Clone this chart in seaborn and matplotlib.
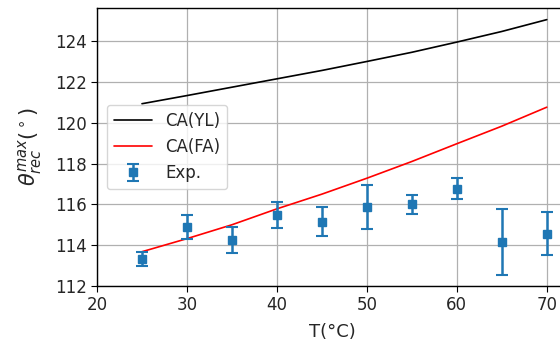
import numpy as np
import pandas as pd
import seaborn as sns
import matplotlib
matplotlib.use("Agg")
import matplotlib.pyplot as plt

# model curves
temp_model = [25, 30, 35, 40, 45, 50, 55, 60, 65, 70]
theta_yl = [120.93, 121.33, 121.74, 122.15, 122.56, 123.0, 123.45, 123.95, 124.47, 125.05]
theta_fa = [113.68, 114.32, 115.0, 115.78, 116.5, 117.28, 118.1, 118.97, 119.83, 120.76]

# experiment
temp_exp = [25, 30, 35, 40, 45, 50, 55, 60, 65, 70]
theta_exp = [113.31, 114.88, 114.24, 115.48, 115.15, 115.86, 116.0, 116.77, 114.16, 114.56]
theta_err = [0.35, 0.58, 0.63, 0.62, 0.7, 1.07, 0.48, 0.5, 1.6, 1.05]

sns.set_style("ticks")
plt.rcParams['font.family'] = ['DejaVu Sans']

fig = plt.figure(figsize=(5.6, 3.48), dpi=100)
ax = fig.add_axes([97 / 560, 62 / 348, 470 / 560, 278 / 348])

model = pd.DataFrame({"T": temp_model, "YL": theta_yl, "FA": theta_fa})
sns.lineplot(data=model, x="T", y="YL", color="black", lw=1.2, label="CA(YL)", ax=ax)
sns.lineplot(data=model, x="T", y="FA", color="red", lw=1.2, label="CA(FA)", ax=ax)
ax.errorbar(temp_exp, theta_exp, yerr=theta_err, fmt="s", color="#1f77b4", ms=5.5,
            capsize=4, elinewidth=1.8, capthick=1.5, label="Exp.")

ax.set_xlim(20, 72.25)
ax.set_ylim(112, 125.62)
ax.set_xticks([20, 30, 40, 50, 60, 70])
ax.set_yticks(np.arange(112, 125, 2))
ax.grid(True, color="#b0b0b0", lw=0.9)
ax.tick_params(labelsize=12, direction="out", length=4, color="black")
for s in ax.spines.values():
    s.set_color("black")
    s.set_linewidth(1.0)

ax.set_xlabel("T(°C)", fontsize=13, labelpad=6)
ax.set_ylabel(r"$\theta_{rec}^{max}(^\circ)$", fontsize=15, labelpad=8)
ax.legend(loc="center left", fontsize=12, frameon=True, borderaxespad=0.6, handlelength=2.3)

fig.savefig("out.png", dpi=100)
